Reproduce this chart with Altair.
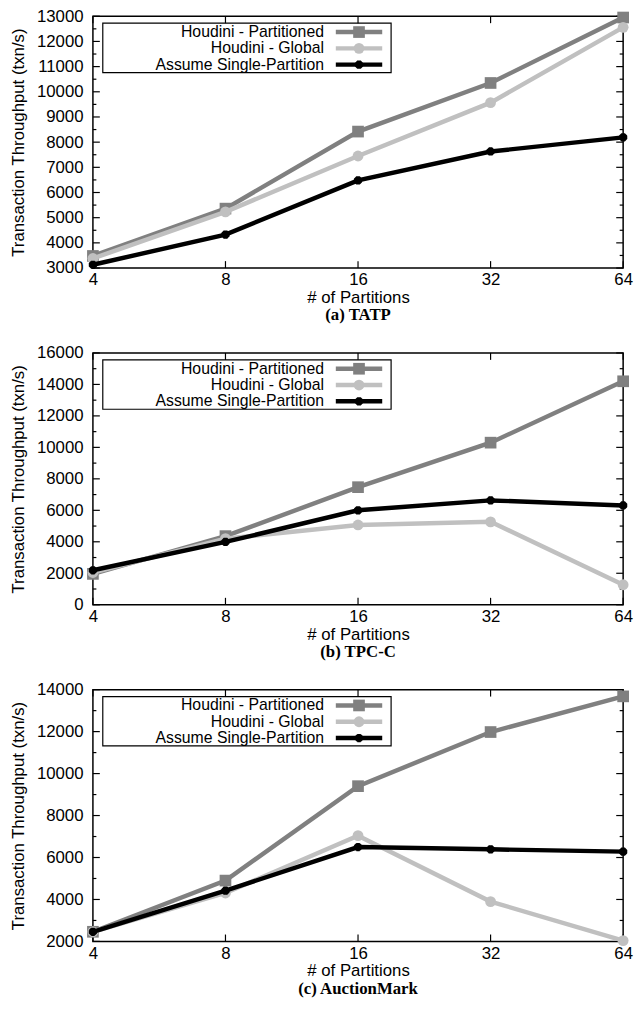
import altair as alt
import pandas as pd

# ---------------- data ----------------
partitions = [4, 8, 16, 32, 64]
series_names = ["Houdini - Partitioned", "Houdini - Global", "Assume Single-Partition"]
series_colors = ["#808080", "#c0c0c0", "#000000"]

tatp_partitioned = [3480, 5360, 8420, 10350, 12950]
tatp_global = [3380, 5230, 7450, 9570, 12560]
tatp_single = [3130, 4330, 6480, 7630, 8190]

tpcc_partitioned = [1960, 4360, 7470, 10300, 14200]
tpcc_global = [2050, 4200, 5070, 5270, 1270]
tpcc_single = [2190, 3990, 6000, 6630, 6310]

auction_partitioned = [2460, 4900, 9400, 11980, 13680]
auction_global = [2460, 4310, 7040, 3900, 2040]
auction_single = [2460, 4420, 6500, 6390, 6280]

captions = ["(a) TATP", "(b) TPC-C", "(c) AuctionMark"]
y_domains = [[3000, 13000], [0, 16000], [2000, 14000]]
y_major = [list(range(3000, 13001, 1000)), list(range(0, 16001, 2000)), list(range(2000, 14001, 2000))]
y_minor = [list(range(3500, 13000, 1000)), list(range(1000, 16000, 2000)), list(range(3000, 14000, 2000))]

panel_series = [
    [tatp_partitioned, tatp_global, tatp_single],
    [tpcc_partitioned, tpcc_global, tpcc_single],
    [auction_partitioned, auction_global, auction_single],
]

W = 537
H = 255
FONT = "Liberation Sans"
FS = 17
MAJ = 7
MIN = 3.5

def panel(idx):
    dom = y_domains[idx]
    xscale = alt.Scale(type="log", base=2, domain=[4, 64], nice=False)
    yscale = alt.Scale(domain=dom, nice=False, zero=False)
    xaxis = alt.Axis(values=partitions, format="d", tickSize=0, domain=False, grid=False,
                     labelFont=FONT, labelFontSize=FS, labelColor="black", labelFlush=False,
                     labelPadding=4, title="# of Partitions", titleFont=FONT, titleFontSize=FS,
                     titleFontWeight="normal", titleColor="black", titlePadding=2)
    yaxis = alt.Axis(values=y_major[idx], format="d", tickSize=0, domain=False, grid=False,
                     labelFont=FONT, labelFontSize=FS, labelColor="black", labelPadding=10,
                     labelOverlap=False,
                     title="Transaction Throughput (txn/s)", titleFont=FONT, titleFontSize=FS,
                     titleFontWeight="normal", titleColor="black", titlePadding=9)
    layers = []

    # inward ticks
    xt = pd.DataFrame({"x": partitions})
    for y1, y2 in [(H, H - MAJ), (0, MAJ)]:
        layers.append(alt.Chart(xt).mark_rule(color="black", strokeWidth=1.2).encode(
            x=alt.X("x:Q", scale=xscale, axis=xaxis), y=alt.value(y1), y2=alt.value(y2)))
    ytm = pd.DataFrame({"y": y_major[idx]})
    ytn = pd.DataFrame({"y": y_minor[idx]})
    for df, ln in [(ytm, MAJ), (ytn, MIN)]:
        for x1, x2 in [(0, ln), (W, W - ln)]:
            layers.append(alt.Chart(df).mark_rule(color="black", strokeWidth=1.2).encode(
                y=alt.Y("y:Q", scale=yscale, axis=yaxis), x=alt.value(x1), x2=alt.value(x2)))

    # legend box
    one = pd.DataFrame({"a": [0]})
    layers.append(alt.Chart(one).mark_rect(filled=False, stroke="black", strokeWidth=1.2).encode(
        x=alt.value(10), x2=alt.value(302), y=alt.value(7), y2=alt.value(57)))

    # series
    for s, (name, color) in enumerate(zip(series_names, series_colors)):
        df = pd.DataFrame({"x": partitions, "y": panel_series[idx][s]})
        enc = dict(x=alt.X("x:Q", scale=xscale, axis=xaxis), y=alt.Y("y:Q", scale=yscale, axis=yaxis))
        layers.append(alt.Chart(df).mark_line(color=color, strokeWidth=4.5).encode(**enc))
        row_y = 16 + 16.5 * s
        lab = pd.DataFrame({"label": [name]})
        layers.append(alt.Chart(lab).mark_text(align="right", baseline="middle", font=FONT,
                                               fontSize=16, color="black").encode(
            text="label:N", x=alt.value(234), y=alt.value(row_y)))
        layers.append(alt.Chart(lab).mark_rule(color=color, strokeWidth=4.5).encode(
            x=alt.value(246), x2=alt.value(293), y=alt.value(row_y)))
        if s == 0:
            pms = [dict(shape="square", size=140, filled=True, color=color, opacity=1)]
        elif s == 1:
            pms = [dict(shape="circle", size=120, filled=True, color=color, opacity=1)]
        else:
            pms = [dict(shape="cross", size=70, filled=True, color=color, opacity=1, angle=0),
                   dict(shape="cross", size=70, filled=True, color=color, opacity=1, angle=45)]
        for p in pms:
            layers.append(alt.Chart(df).mark_point(**p).encode(**enc))
            layers.append(alt.Chart(lab).mark_point(**p).encode(x=alt.value(269.5), y=alt.value(row_y)))

    return alt.layer(*layers).properties(
        width=W, height=H,
        title=alt.TitleParams(captions[idx], orient="bottom", anchor="middle",
                              font="Liberation Serif", fontWeight="bold", fontSize=17,
                              color="black", offset=2))

chart = alt.vconcat(panel(0), panel(1), panel(2), spacing=19).properties(
    padding={"left": 0, "top": -8, "right": 0, "bottom": 0}
).configure_view(stroke="black", strokeWidth=1.5)

chart.save("out.html", embed_options={"renderer": "svg", "actions": False})
